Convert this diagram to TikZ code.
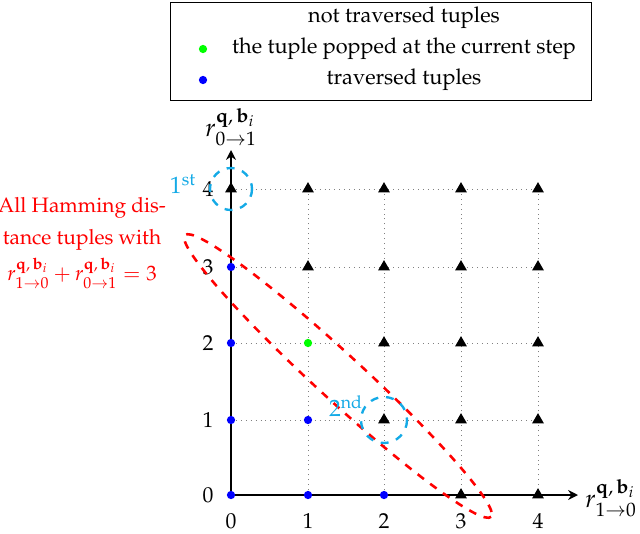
\documentclass[tikz,border=0pt]{standalone}
\usepackage[T1]{fontenc}
\usepackage{mathpazo}
\usetikzlibrary{arrows.meta,shapes.geometric}
\definecolor{cy}{RGB}{20,170,230}
\begin{document}
\begin{tikzpicture}[x=0.508pt,y=-0.508pt,
  every node/.append style={font=\fontsize{11}{13.5}\selectfont},
  gridline/.style={gray,dotted,line width=0.5pt},
  axisline/.style={black,line width=1.2pt,-{Stealth[length=5pt,width=5pt]}},
  tri/.style={regular polygon,regular polygon sides=3,fill=black,inner sep=0pt,minimum size=7pt},
  bdot/.style={circle,fill=blue,inner sep=0pt,minimum size=4.2pt},
  gdot/.style={circle,fill=green,inner sep=0pt,minimum size=4.2pt},
  tick/.style={},
  axlab/.style={inner sep=1pt,font=\fontsize{13}{15}\selectfont},
  cyc/.style={cy,line width=1.2pt,dash pattern=on 4pt off 4pt},
  redell/.style={red,line width=1.3pt,dash pattern=on 4pt off 4pt}]
\useasboundingbox (0,0) rectangle (640,533);
% legend
\node[draw,line width=0.7pt,minimum width=214pt,minimum height=50pt] (legend) at (381,51.5) {};
\node (l1) at (404,18) {not traversed tuples};
\node (l2) at (404,49) {the tuple popped at the current step};
\node (l3) at (404,80) {traversed tuples};
\node[gdot] (lg) at (203,49) {};
\node[bdot] (lb) at (203,80) {};
% grid
\foreach \i/\px in {0/231,1/308,2/384,3/461,4/538}{
  \draw[gridline] (\px,495) -- (\px,189);
}
\foreach \j/\py in {0/495,1/420,2/343,3/267,4/189}{
  \draw[gridline] (231,\py) -- (538,\py);
}
% axes
\coordinate (o) at (231,495);
\coordinate (xend) at (578,495);
\coordinate (yend) at (231,150);
\draw[axisline] (o) -- (xend);
\draw[axisline] (o) -- (yend);
\node[axlab,anchor=west] (xlab) at (583,498) {$r^{\mathbf{q},\,\mathbf{b}_i}_{1\to0}$};
\node[axlab,anchor=south] (ylab) at (231,148) {$r^{\mathbf{q},\,\mathbf{b}_i}_{0\to1}$};
% tick labels
\foreach \i/\px in {0/231,1/308,2/384,3/461,4/538}{
  \node[tick] (xt\i) at (\px,521) {\i};
}
\foreach \j/\py in {0/495,1/420,2/343,3/267,4/189}{
  \node[tick] (yt\j) at (208,\py) {\j};
}
% points
\foreach \i/\px in {0/231,1/308,2/384,3/461,4/538}{
  \foreach \j/\py in {0/495,1/420,2/343,3/267,4/189}{
    \pgfmathtruncatemacro{\s}{\i+\j}
    \ifnum\s<3 \def\st{bdot}\else\def\st{tri}\fi
    \ifnum\i=1 \ifnum\j=2 \def\st{gdot}\fi\fi
    \ifnum\i=0 \ifnum\j=3 \def\st{bdot}\fi\fi
    \node[\st] (p\i\j) at (\px,\py) {};
  }
}
% ellipse and circles
\draw[redell,rotate around={-42.6:(338,376)}] (338,376) ellipse (208 and 23);
\draw[cyc] (p04) circle[radius=21];
\draw[cyc] (p21) circle[radius=23];
\node[cy,font=\fontsize{12}{14}\selectfont] (first) at (183,184) {$1^{\mathrm{st}}$};
\node[cy,font=\fontsize{12}{14}\selectfont] (second) at (346,406) {$2^{\mathrm{nd}}$};
% red text
\node[red,align=center,font=\fontsize{10.6}{13}\selectfont] (note) at (82,243) {All Hamming dis-\\[3pt]tance tuples with\\[3pt]$r^{\mathbf{q},\,\mathbf{b}_i}_{1\to0}+r^{\mathbf{q},\,\mathbf{b}_i}_{0\to1}=3$};
\end{tikzpicture}
\end{document}
